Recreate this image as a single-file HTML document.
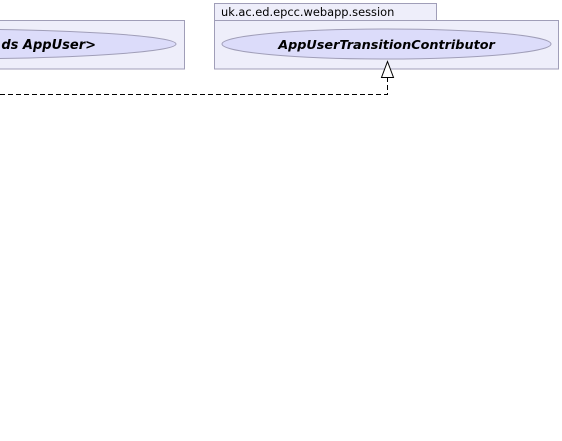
<!DOCTYPE html>
<html><head><meta charset="utf-8"><style>
html,body{margin:0;padding:0;background:#fff;width:562px;height:441px;overflow:hidden}
</style></head><body>
<svg width="562" height="441" xmlns="http://www.w3.org/2000/svg" style="display:block">
<rect x="-10" y="20.5" width="194.5" height="48.5" fill="#eeeefa" stroke="#a09eb8" stroke-width="1"/>
<ellipse cx="-60" cy="44" rx="236" ry="15" fill="#dcdcfa" stroke="#a09eb8" stroke-width="1"/>
<text x="96" y="49" text-anchor="end" font-family="'DejaVu Sans','Liberation Sans',sans-serif" font-size="13" font-weight="bold" font-style="italic" fill="#000">ds AppUser&gt;</text>
<rect x="214.5" y="3.5" width="222" height="17" fill="#eeeefa" stroke="#a09eb8" stroke-width="1"/>
<text x="221" y="16" font-family="'DejaVu Sans','Liberation Sans',sans-serif" font-size="11.4" fill="#000">uk.ac.ed.epcc.webapp.session</text>
<rect x="214.5" y="20.5" width="344" height="48.5" fill="#eeeefa" stroke="#a09eb8" stroke-width="1"/>
<ellipse cx="386.5" cy="44" rx="164.5" ry="15" fill="#dcdcfa" stroke="#a09eb8" stroke-width="1"/>
<text x="386.5" y="49" text-anchor="middle" font-family="'DejaVu Sans','Liberation Sans',sans-serif" font-size="12.8" font-weight="bold" font-style="italic" fill="#000">AppUserTransitionContributor</text>
<path d="M0 94.5 H387.5 V77" fill="none" stroke="#000" stroke-width="1" stroke-dasharray="5,3"/>
<polygon points="387.5,61.5 381.5,77.5 393.5,77.5" fill="#fff" stroke="#000" stroke-width="1"/>
</svg>
</body></html>
